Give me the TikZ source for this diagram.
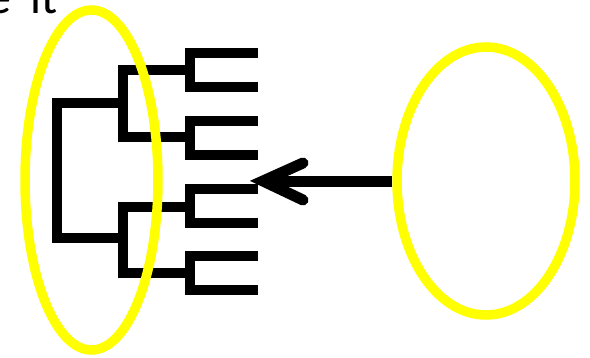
\documentclass[tikz,border=0pt]{standalone}
\usepackage{fontspec}
\setmainfont{Carlito}
\usetikzlibrary{shapes.geometric,arrows.meta}
\definecolor{hlyellow}{RGB}{255,255,0}
\begin{document}
\begin{tikzpicture}[x=1pt,y=-1pt,
  hl/.style={ellipse,draw=hlyellow,line width=9.5pt,inner sep=0pt},
  tree/.style={line width=10pt,line cap=butt,line join=miter,black}]
\clip (0,0) rectangle (590,357);
\useasboundingbox (0,0) rectangle (590,357);
\fill[white] (0,0) rectangle (590,357);
% partial title text
\node[anchor=base west,inner sep=0pt,font=\fontsize{48}{56}\selectfont] (title) at (-13,13.5) {e\hspace{0.4em}it};
% dendrogram coordinates
\coordinate (r1) at (57,103); \coordinate (r2) at (57,238);
\coordinate (a1) at (123,70); \coordinate (a2) at (123,137);
\coordinate (b1) at (123,207); \coordinate (b2) at (123,273);
\foreach \n/\y/\ya/\yb in {1/70/53/87, 2/137/121/155, 3/207/189/223, 4/273/256/290}{
  \coordinate (m\n) at (190,\y);
  \coordinate (u\n) at (190,\ya);
  \coordinate (d\n) at (190,\yb);
  \coordinate (ue\n) at (254,\ya);
  \coordinate (de\n) at (254,\yb);
}
% root
\draw[tree] (a1 |- r1) -- (r1) -- (r2) -- (b1 |- r2);
% second level
\draw[tree] (m1) -- (a1) -- (a2) -- (m2);
\draw[tree] (m3) -- (b1) -- (b2) -- (m4);
% leaves
\foreach \n in {1,2,3,4}{
  \draw[tree] (ue\n) -- (u\n) -- (d\n) -- (de\n);
  \fill[black] (ue\n) ++(0,-5) rectangle ++(4,10);
  \fill[black] (de\n) ++(0,-5) rectangle ++(4,10);
}
% highlight ellipses
\node[hl,minimum width=133pt,minimum height=340pt] (left) at (91.5,180) {};
\node[hl,minimum width=178pt,minimum height=268pt] (right) at (486,181) {};
% arrow
\coordinate (tip) at (263,181);
\draw[line width=11pt,black] (right.west) -- ([xshift=6pt]tip);
\draw[line width=11pt,black,line cap=round,line join=miter] (303,163) -- (tip) -- (303,200);
\end{tikzpicture}
\end{document}
